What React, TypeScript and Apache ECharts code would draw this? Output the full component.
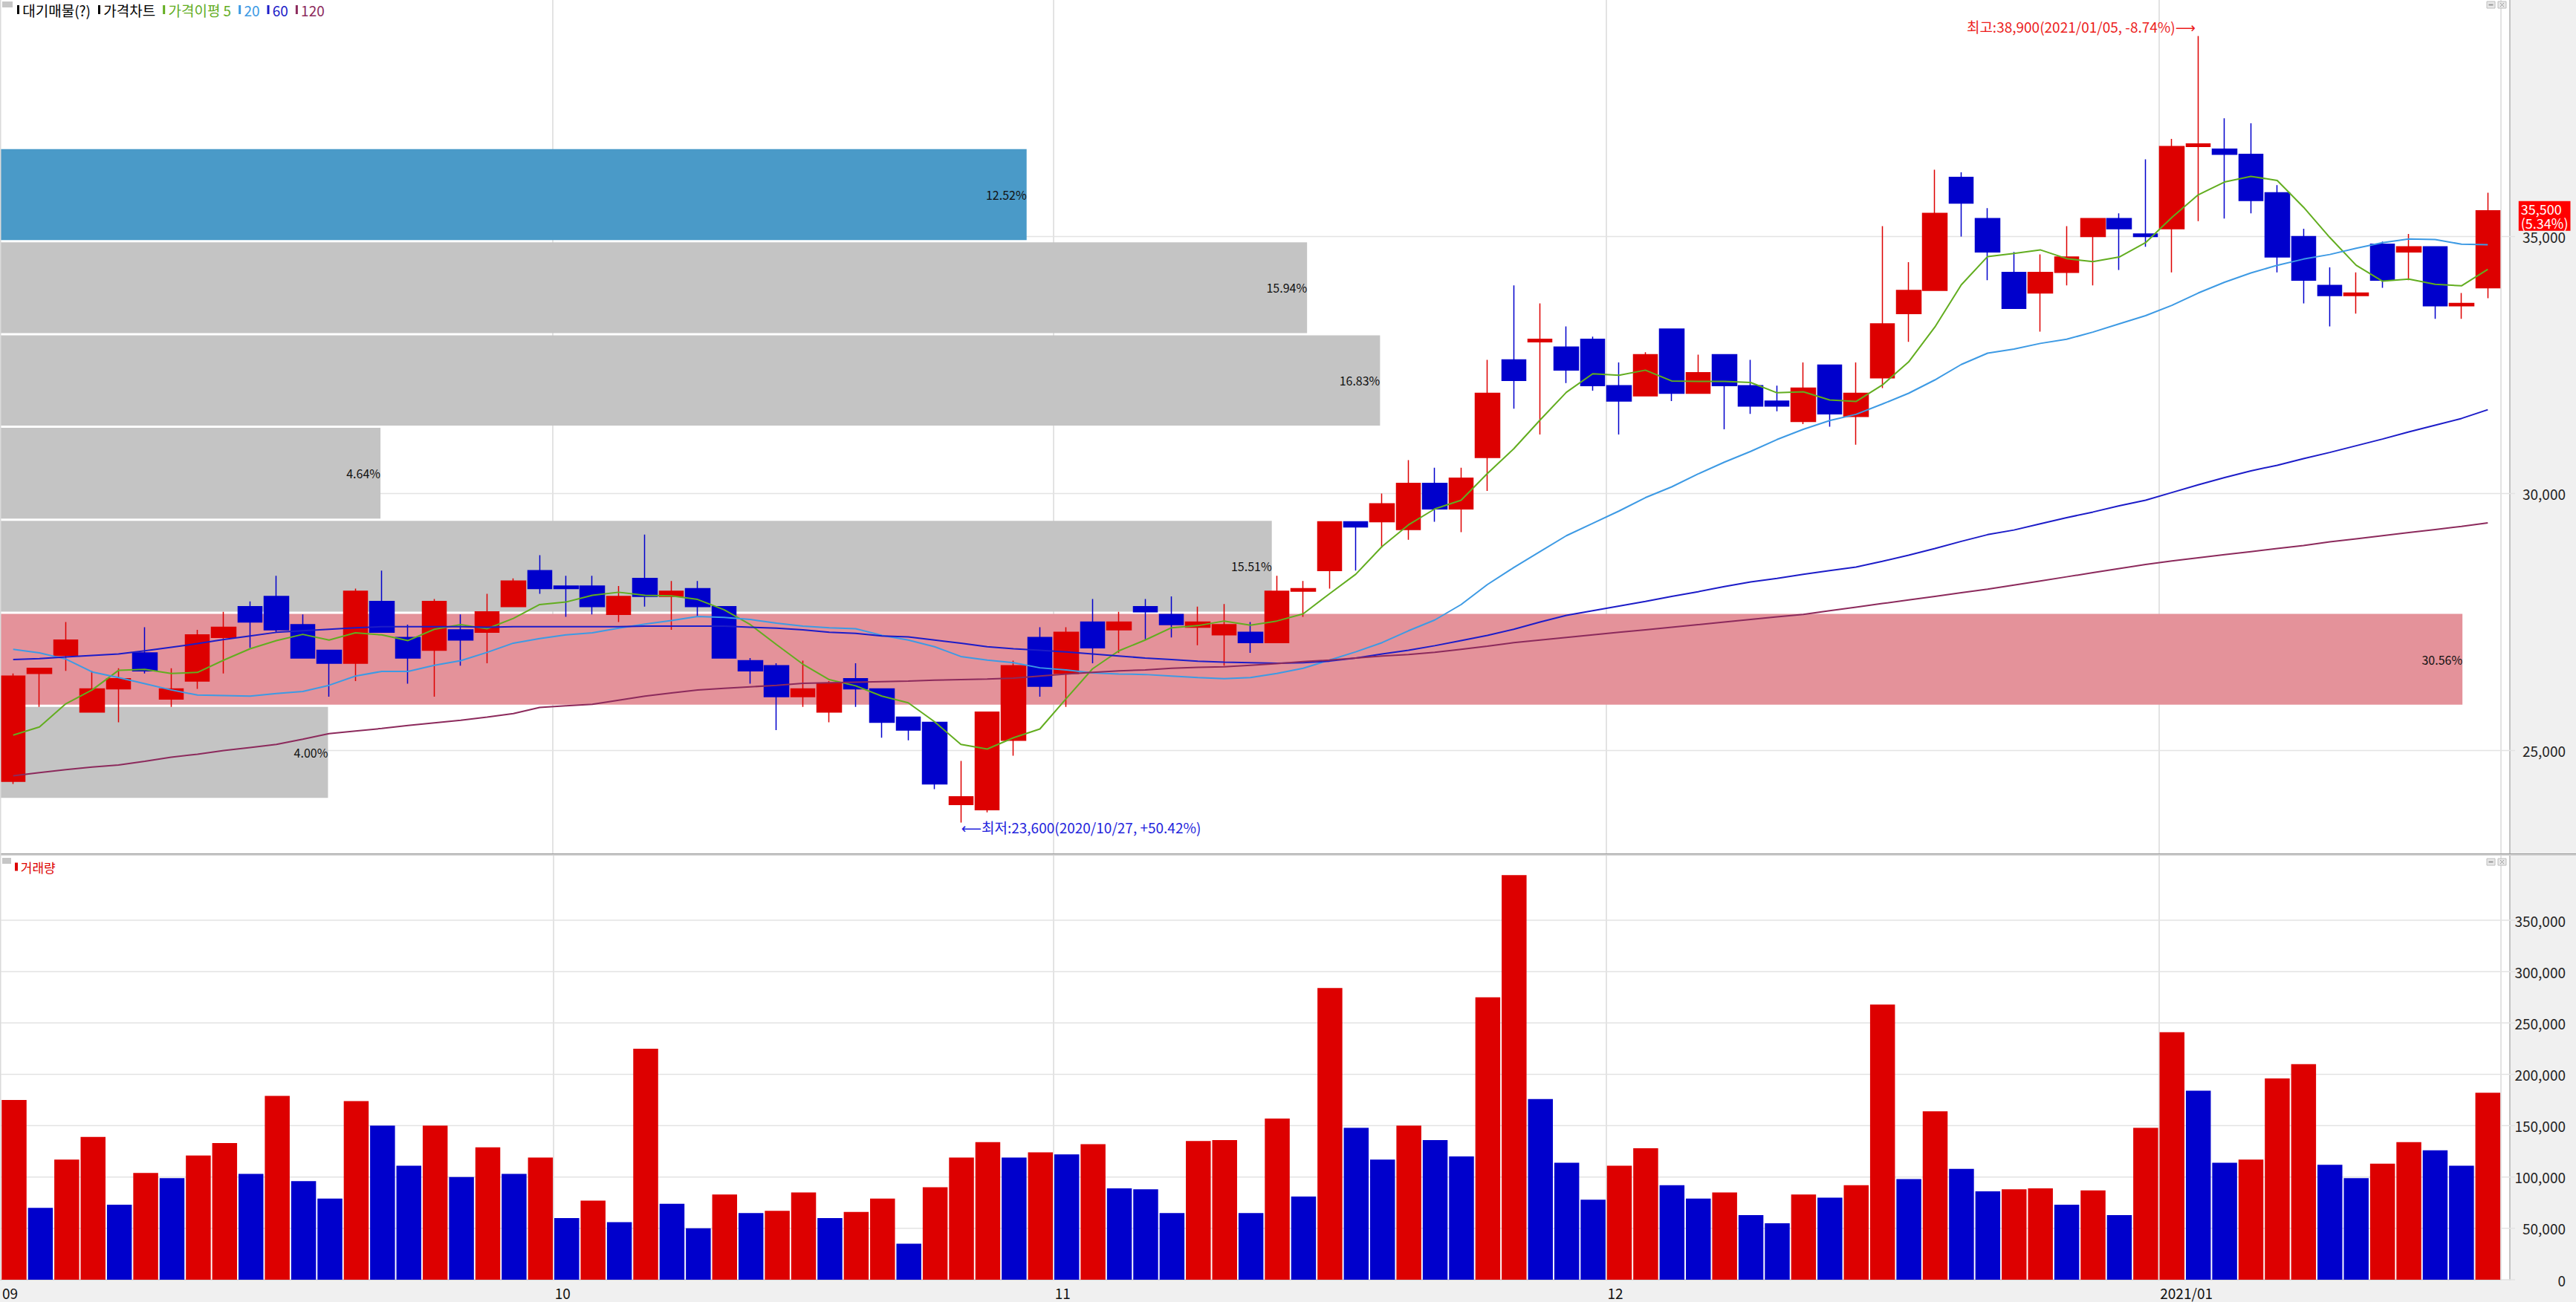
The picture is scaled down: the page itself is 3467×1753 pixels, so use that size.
import React, { useEffect, useRef } from "react";
import * as echarts from "echarts";

// ---------- DATA ----------
const dates = [
  "2020/09/01","2020/09/02","2020/09/03","2020/09/04","2020/09/07","2020/09/08","2020/09/09","2020/09/10","2020/09/11","2020/09/14",
  "2020/09/15","2020/09/16","2020/09/17","2020/09/18","2020/09/21","2020/09/22","2020/09/23","2020/09/24","2020/09/25","2020/09/28",
  "2020/09/29","2020/10/05","2020/10/06","2020/10/07","2020/10/08","2020/10/12","2020/10/13","2020/10/14","2020/10/15","2020/10/16",
  "2020/10/19","2020/10/20","2020/10/21","2020/10/22","2020/10/23","2020/10/26","2020/10/27","2020/10/28","2020/10/29","2020/10/30",
  "2020/11/02","2020/11/03","2020/11/04","2020/11/05","2020/11/06","2020/11/09","2020/11/10","2020/11/11","2020/11/12","2020/11/13",
  "2020/11/16","2020/11/17","2020/11/18","2020/11/19","2020/11/20","2020/11/23","2020/11/24","2020/11/25","2020/11/26","2020/11/27",
  "2020/11/30","2020/12/01","2020/12/02","2020/12/03","2020/12/04","2020/12/07","2020/12/08","2020/12/09","2020/12/10","2020/12/11",
  "2020/12/14","2020/12/15","2020/12/16","2020/12/17","2020/12/18","2020/12/21","2020/12/22","2020/12/23","2020/12/24","2020/12/28",
  "2020/12/29","2020/12/30","2021/01/04","2021/01/05","2021/01/06","2021/01/07","2021/01/08","2021/01/11","2021/01/12","2021/01/13",
  "2021/01/14","2021/01/15","2021/01/18","2021/01/19","2021/01/20"
];

const monthLabels = ["09", "10", "11", "12", "2021/01"];

const opens = [
  24400,26500,26850,25750,26200,26900,26000,26350,27200,27800,
  28000,27450,26950,26700,27900,27200,26950,27350,27300,27800,
  28500,28200,28200,27650,28350,28000,28150,27800,26750,26650,
  26050,25750,26400,26200,25650,25550,23950,23850,25200,27200,
  26500,27500,27350,27800,27650,27400,27250,27300,27100,28100,
  28500,29450,29450,29300,30200,29700,30700,32600,32950,32850,
  33000,32100,31900,33200,31950,32700,32100,31800,31400,32500,
  31500,32250,33500,33950,36150,35350,34300,33900,34300,35000,
  35350,35050,35150,36750,36700,36600,35850,35000,34050,33850,
  34850,34700,34800,33650,34000
];
const closes = [
  26450,26600,27150,26200,26400,26550,26200,27250,27400,27500,
  27350,26800,26700,28100,27300,26800,27900,27150,27700,28300,
  28150,28150,27800,28000,28000,28100,27800,26800,26550,26050,
  26200,26300,26200,25550,25400,24350,24100,25750,26650,26250,
  27300,27000,27500,27700,27450,27500,27450,27100,28100,28150,
  29450,29350,29800,30200,29700,30300,31950,32200,33000,32400,
  32100,31800,32700,31950,32350,32100,31700,31700,32050,31550,
  31950,33300,33950,35450,35650,34700,33600,34300,34600,35350,
  35150,35000,36750,36800,36600,35700,34600,34150,33850,33900,
  34150,34800,33650,33700,35500
];
const lows = [
  24350,25850,26550,25750,25550,26500,25850,26200,26500,27000,
  27300,26800,26050,26350,27300,26300,26050,26650,26700,27800,
  28050,27600,27650,27500,27800,27350,27600,26800,26300,25400,
  25850,25550,25850,25250,25200,24250,23600,23800,24900,26050,
  25850,26700,26900,27150,27200,27050,26650,26900,27100,27600,
  28150,28500,28950,29100,29450,29250,30050,31650,31150,32150,
  32000,31150,31900,31800,31950,31250,31550,31600,31350,31300,
  30950,32050,32950,33950,35000,34150,33600,33150,34050,34050,
  34350,34800,34300,35300,35350,35450,34300,33700,33250,33500,
  34000,34150,33400,33400,33800
];
const highs = [
  26500,26600,27500,26550,26600,27400,26600,27350,27700,27900,
  28400,27650,26950,28150,28500,27450,27950,27650,28050,28350,
  28800,28400,28400,28200,29200,28300,28300,27800,26800,26700,
  26750,26350,26700,26200,25650,25550,24800,25750,26750,27400,
  27400,27950,27700,27950,28000,27800,27850,27500,28400,28300,
  29450,29450,30000,30650,30500,30500,32600,34050,33700,33250,
  33050,32550,32750,33200,32700,32700,32600,32100,32550,32500,
  32550,35200,34500,36300,36250,35550,34700,34650,35200,35350,
  35450,36500,36900,38900,37300,37200,36000,35150,34400,34300,
  34900,35050,34800,33900,35850
];
const volumes = [
  175000,70000,117000,139000,73000,104000,99000,121000,133000,103000,
  179000,96000,79000,174000,150000,111000,150000,100000,129000,103000,
  119000,60000,77000,56000,225000,74000,50000,83000,65000,67000,
  85000,60000,66000,79000,35000,90000,119000,134000,119000,124000,
  122000,132000,89000,88000,65000,135000,136000,65000,157000,81000,
  284000,148000,117000,150000,136000,120000,275000,394000,176000,114000,
  78000,111000,128000,92000,79000,85000,63000,55000,83000,80000,
  92000,268000,98000,164000,108000,86000,88000,89000,73000,87000,
  63000,148000,241000,184000,114000,117000,196000,210000,112000,99000,
  113000,134000,126000,111000,182000
];
const ma5 = [
  25300,25460,25910,26180,26560,26580,26500,26520,26760,26980,
  27140,27260,27150,27290,27250,27140,27360,27450,27370,27570,
  27840,27890,28020,28080,28020,28010,27940,27740,27450,27060,
  26680,26380,26260,26060,25930,25560,25120,25030,25250,25420,
  26010,26590,26940,27150,27390,27430,27520,27440,27520,27660,
  28050,28430,28970,29390,29700,29870,30390,30870,31430,31970,
  32330,32300,32400,32190,32180,32180,32160,31960,31980,31820,
  31790,32110,32560,33240,34060,34610,34670,34740,34570,34510,
  34600,34880,35370,35810,36060,36170,36090,35570,34980,34440,
  34130,34170,34070,34040,34360
];
const ma20 = [
  26970,26900,26780,26530,26420,26300,26180,26080,26070,26060,
  26110,26150,26270,26450,26540,26540,26660,26750,26910,27090,
  27180,27250,27290,27380,27460,27530,27610,27590,27550,27480,
  27420,27390,27370,27240,27150,27020,26830,26760,26710,26610,
  26570,26510,26490,26480,26450,26420,26400,26420,26500,26600,
  26760,26920,27100,27330,27540,27840,28230,28560,28870,29180,
  29420,29660,29920,30130,30380,30610,30820,31050,31250,31420,
  31540,31740,31950,32210,32510,32730,32810,32920,33000,33140,
  33300,33460,33660,33900,34110,34290,34440,34560,34650,34770,
  34880,34950,34940,34850,34840
];
const ma60 = [
  26770,26790,26820,26850,26880,26940,27010,27080,27160,27230,
  27300,27330,27360,27390,27410,27410,27410,27410,27400,27410,
  27410,27410,27410,27410,27420,27420,27420,27420,27400,27380,
  27350,27300,27280,27230,27210,27150,27090,27020,26980,26950,
  26920,26880,26840,26800,26770,26740,26720,26710,26700,26710,
  26740,26800,26880,26950,27040,27140,27240,27360,27500,27630,
  27720,27810,27900,28000,28090,28190,28280,28350,28430,28500,
  28570,28680,28800,28930,29070,29200,29290,29410,29530,29640,
  29760,29870,30020,30170,30310,30440,30550,30680,30800,30930,
  31060,31200,31330,31460,31630
];
const ma120 = [
  24510,24570,24630,24680,24720,24790,24870,24930,25000,25060,
  25120,25220,25330,25380,25430,25490,25540,25590,25650,25720,
  25840,25870,25900,25980,26060,26120,26180,26210,26240,26270,
  26310,26320,26330,26340,26350,26370,26380,26390,26410,26450,
  26490,26520,26550,26570,26600,26620,26630,26660,26690,26730,
  26760,26800,26840,26870,26910,26970,27030,27100,27150,27200,
  27250,27300,27350,27400,27450,27500,27550,27600,27650,27720,
  27790,27860,27930,28000,28070,28140,28220,28300,28380,28460,
  28540,28620,28690,28750,28810,28870,28930,28990,29060,29120,
  29180,29240,29300,29360,29430
];
// volume-at-price bands (대기매물)
const bandTops = [36720, 34910, 33100, 31300, 29490, 27680, 25870];
const bandBottoms = [34910, 33100, 31300, 29490, 27680, 25870, 24060];
const bandPcts = [12.52, 15.94, 16.83, 4.64, 15.51, 30.56, 4.0];

const priceGridValues = [25000, 30000, 35000];
const volumeGridValues = [0, 50000, 100000, 150000, 200000, 250000, 300000, 350000];

// ---------- STYLE ----------
const F = '"Noto Sans CJK KR", "DejaVu Sans", sans-serif';
const UP = "#dd0000";
const DOWN = "#0000cc";
const C5 = "#62ad1f";
const C20 = "#3d9ae4";
const C60 = "#1c1cc8";
const C120 = "#8c2a5c";

const fmt = (v: number) => Math.round(v).toLocaleString("en-US");

export default function App() {
  const ref = useRef<HTMLDivElement>(null);

  useEffect(() => {
    const el = ref.current;
    if (!el) return;
    const chart = echarts.init(el, null, { renderer: "svg", width: 3467, height: 1753 });

    const N = dates.length;
    const monthStart = dates.map((d, i) => i === 0 || d.slice(0, 7) !== dates[i - 1].slice(0, 7));
    const labelOf: Record<number, string> = {};
    let k = 0;
    monthStart.forEach((s, i) => {
      if (s) labelOf[i] = monthLabels[k++];
    });

    const candleData = dates.map((_, i) => [opens[i], closes[i], lows[i], highs[i]]);
    const volData = volumes.map((v, i) => ({
      value: v,
      itemStyle: { color: i === 0 || v >= volumes[i - 1] ? UP : DOWN },
    }));

    const last = N - 1;
    const lastClose = closes[last];
    const chg = ((lastClose / closes[last - 1] - 1) * 100).toFixed(2);
    const hiVal = Math.max(...highs);
    const hiIdx = highs.indexOf(hiVal);
    const loVal = Math.min(...lows);
    const loIdx = lows.indexOf(loVal);
    const hiPct = ((lastClose / hiVal - 1) * 100).toFixed(2);
    const loPct = ((lastClose / loVal - 1) * 100).toFixed(2);
    const hiText = `최고:${fmt(hiVal)}(${dates[hiIdx]}, ${hiPct}%)⟶`;
    const loText = `⟵최저:${fmt(loVal)}(${dates[loIdx]}, +${loPct}%)`;
    const maxPct = Math.max(...bandPcts);

    const gridLineSeries = (xi: number, yi: number, vals: number[]) => ({
      type: "custom",
      xAxisIndex: xi,
      yAxisIndex: yi,
      z: 1,
      silent: true,
      clip: false,
      data: vals.map((v) => [0, v]),
      renderItem: (params: any, api: any) => {
        const cs = params.coordSys;
        const y = api.coord([0, api.value(1)])[1];
        return {
          type: "line",
          shape: { x1: cs.x, y1: y, x2: cs.x + cs.width + 19, y2: y },
          style: { stroke: "#e3e3e3", lineWidth: 1.5 },
        };
      },
    });

    const lineSeries = (name: string, data: number[], color: string) => ({
      name,
      type: "line",
      xAxisIndex: 0,
      yAxisIndex: 0,
      data,
      z: 4,
      symbol: "none",
      silent: true,
      lineStyle: { color, width: 2 },
    });

    const icons = (y: number) => [
      { type: "rect", shape: { x: 3347, y, width: 11, height: 9 }, style: { fill: "#e8e8e8", stroke: "#bdbdbd", lineWidth: 1 }, z: 10, silent: true },
      { type: "rect", shape: { x: 3349.5, y: y + 3.5, width: 6, height: 2 }, style: { fill: "#9a9a9a" }, z: 11, silent: true },
      { type: "rect", shape: { x: 3362, y, width: 11, height: 9 }, style: { fill: "#e8e8e8", stroke: "#bdbdbd", lineWidth: 1 }, z: 10, silent: true },
      { type: "line", shape: { x1: 3365, y1: y + 2, x2: 3370, y2: y + 7 }, style: { stroke: "#9a9a9a", lineWidth: 1 }, z: 11, silent: true },
      { type: "line", shape: { x1: 3370, y1: y + 2, x2: 3365, y2: y + 7 }, style: { stroke: "#9a9a9a", lineWidth: 1 }, z: 11, silent: true },
    ];

    const tok = (fill: string, size: number) => ({
      fill,
      font: `${size}px ${F}`,
      fontSize: size,
      fontFamily: F,
    });
    const LF = 19;
    const mk = (c: string) => ({ backgroundColor: c, width: 3, height: 12 });
    const legendRich: any = {
      k: mk("#000"),
      t: tok("#000", LF),
      s: { width: 10 },
      mg: mk(C5),
      tg: tok(C5, LF),
      mb: mk(C20),
      tb: tok(C20, LF),
      md: mk(C60),
      td: tok(C60, LF),
      mm: mk(C120),
      tm: tok(C120, LF),
    };

    const option: any = {
      animation: false,
      backgroundColor: "#f0f0f0",
      grid: [
        { left: 0, top: 0, width: 3366, height: 1149 },
        { left: 0, top: 1152, width: 3366, height: 571 },
      ],
      xAxis: [
        {
          type: "category",
          gridIndex: 0,
          data: dates,
          boundaryGap: true,
          axisLine: { show: false, onZero: false },
          axisTick: { show: false },
          axisLabel: { show: false },
          splitLine: {
            show: true,
            interval: (i: number) => monthStart[i] && i > 0,
            lineStyle: { color: "#e3e3e3", width: 2 },
          },
        },
        {
          type: "category",
          gridIndex: 1,
          data: dates,
          boundaryGap: true,
          axisLine: { show: true, onZero: false, lineStyle: { color: "#c4c4c4", width: 2 } },
          axisTick: { show: false },
          axisLabel: {
            show: true,
            interval: (i: number) => monthStart[i],
            formatter: (_v: string, i: number) => labelOf[i] ?? "",
            align: "left",
            padding: [0, 0, 0, -16],
            margin: 8,
            color: "#111",
            fontSize: 19,
            fontFamily: F,
          },
          splitLine: {
            show: true,
            interval: (i: number) => monthStart[i] && i > 0,
            lineStyle: { color: "#e3e3e3", width: 2 },
          },
        },
        { type: "value", gridIndex: 0, min: 0, max: 30.5, show: false },
      ],
      yAxis: [
        {
          type: "value",
          gridIndex: 0,
          position: "right",
          offset: 12,
          min: 23000,
          max: 39600,
          minInterval: 5000,
          maxInterval: 5000,
          axisLine: { show: true, onZero: false, lineStyle: { color: "#c4c4c4", width: 2 } },
          axisTick: { show: false },
          axisLabel: {
            align: "right",
            margin: 75,
            color: "#222",
            fontSize: 19,
            fontFamily: F,
            showMinLabel: false,
            showMaxLabel: false,
            formatter: (v: number) => fmt(v),
          },
          splitLine: { show: false },
        },
        {
          type: "value",
          gridIndex: 1,
          position: "right",
          offset: 12,
          min: 0,
          max: 413000,
          minInterval: 50000,
          maxInterval: 50000,
          axisLine: { show: true, onZero: false, lineStyle: { color: "#c4c4c4", width: 2 } },
          axisTick: { show: false },
          axisLabel: {
            align: "right",
            margin: 75,
            color: "#222",
            fontSize: 19,
            fontFamily: F,
            showMinLabel: true,
            showMaxLabel: false,
            formatter: (v: number) => (v > 350000 ? "" : fmt(v)),
          },
          splitLine: { show: false },
        },
      ],
      series: [
        gridLineSeries(0, 0, priceGridValues),
        gridLineSeries(1, 1, volumeGridValues),
        {
          type: "custom",
          xAxisIndex: 2,
          yAxisIndex: 0,
          z: 2,
          silent: true,
          data: bandPcts.map((p, i) => [p, bandTops[i], bandBottoms[i]]),
          renderItem: (params: any, api: any) => {
            const cs = params.coordSys;
            const pct = api.value(0);
            const top = api.value(1);
            const bot = api.value(2);
            const x0 = cs.x;
            const xEnd = Math.min(api.coord([pct, top])[0], cs.x + cs.width * 0.9846);
            const yTop = api.coord([0, top])[1] + 1.5;
            const yBot = api.coord([0, bot])[1] - 1.5;
            const isCur = lastClose <= top && lastClose > bot;
            const fill = isCur ? "#4a9ac8" : pct === maxPct ? "#e4929a" : "#c4c4c4";
            return {
              type: "group",
              children: [
                { type: "rect", shape: { x: x0, y: yTop, width: xEnd - x0, height: yBot - yTop }, style: { fill } },
                {
                  type: "text",
                  style: {
                    text: pct.toFixed(2) + "%",
                    x: xEnd,
                    y: (yTop + yBot) / 2,
                    align: "right",
                    verticalAlign: "middle",
                    textAlign: "right",
                    textVerticalAlign: "middle",
                    fill: "#111",
                    font: `16px ${F}`,
                  },
                },
              ],
            };
          },
        },
        {
          name: "가격차트",
          type: "candlestick",
          xAxisIndex: 0,
          yAxisIndex: 0,
          z: 3,
          barWidth: 33,
          silent: true,
          data: candleData,
          itemStyle: {
            color: UP,
            color0: DOWN,
            borderColor: UP,
            borderColor0: DOWN,
            borderWidth: 1.5,
          },
          markPoint: {
            symbol: "circle",
            symbolSize: 1,
            silent: true,
            itemStyle: { color: "rgba(0,0,0,0)" },
            data: [
              {
                coord: [dates[hiIdx], hiVal],
                label: {
                  show: true,
                  position: "left",
                  distance: 3,
                  offset: [0, -13],
                  formatter: hiText,
                  color: "#ec1c1c",
                  fontSize: 19,
                  fontFamily: F,
                },
              },
              {
                coord: [dates[loIdx], loVal],
                label: {
                  show: true,
                  position: "right",
                  distance: 0,
                  offset: [0, 6],
                  formatter: loText,
                  color: "#2424dc",
                  fontSize: 19,
                  fontFamily: F,
                },
              },
              {
                coord: [dates[last], lastClose],
                label: {
                  show: true,
                  position: "right",
                  distance: 41,
                  offset: [0, 7],
                  formatter: `${fmt(lastClose)}\n(${chg}%)`,
                  color: "#fff",
                  backgroundColor: "#ff0000",
                  padding: [1, 3, 1, 3],
                  lineHeight: 19,
                  align: "left",
                  fontSize: 18,
                  fontFamily: F,
                },
              },
            ],
          },
        },
        lineSeries("MA5", ma5, C5),
        lineSeries("MA20", ma20, C20),
        lineSeries("MA60", ma60, C60),
        lineSeries("MA120", ma120, C120),
        {
          name: "거래량",
          type: "bar",
          xAxisIndex: 1,
          yAxisIndex: 1,
          z: 3,
          silent: true,
          barWidth: 33.5,
          data: volData,
        },
      ],
      graphic: {
        elements: [
          { type: "rect", shape: { x: 0, y: 0, width: 3378, height: 1149 }, style: { fill: "#ffffff" }, z: -10, silent: true },
          { type: "rect", shape: { x: 0, y: 1152, width: 3378, height: 571 }, style: { fill: "#ffffff" }, z: -10, silent: true },
          { type: "rect", shape: { x: 0, y: 1149, width: 3467, height: 1.6 }, style: { fill: "#9c9c9c" }, z: 5, silent: true },
          { type: "rect", shape: { x: 0, y: 1150.6, width: 3467, height: 1.4 }, style: { fill: "#d2d2d2" }, z: 5, silent: true },
          { type: "rect", shape: { x: 0, y: 0, width: 1.5, height: 1723 }, style: { fill: "#dadada" }, z: 5, silent: true },
          { type: "rect", shape: { x: 3, y: 2, width: 14, height: 8 }, style: { fill: "#c6c6c6" }, z: 10, silent: true },
          {
            type: "text",
            x: 23,
            y: 13,
            z: 10,
            silent: true,
            style: {
              text: "{k| }{t| 대기매물(?)}{s| }{k| }{t| 가격차트}{s| }{mg| }{tg| 가격이평 5}{s| }{mb| }{tb| 20}{s| }{md| }{td| 60}{s| }{mm| }{tm| 120}",
              rich: legendRich,
              font: `${LF}px ${F}`,
              fontSize: LF,
              fontFamily: F,
              verticalAlign: "middle",
              textVerticalAlign: "middle",
            },
          },
          { type: "rect", shape: { x: 3, y: 1155, width: 12, height: 8 }, style: { fill: "#c6c6c6" }, z: 10, silent: true },
          {
            type: "text",
            x: 20,
            y: 1167,
            z: 10,
            silent: true,
            style: {
              text: "{k| }{t| 거래량}",
              rich: {
                k: { backgroundColor: UP, width: 4, height: 11 },
                t: tok(UP, 17),
              },
              font: `17px ${F}`,
              verticalAlign: "middle",
              textVerticalAlign: "middle",
            },
          },
          ...icons(2),
          ...icons(1156),
        ],
      },
    };

    chart.setOption(option);
    return () => chart.dispose();
  }, []);

  return (
    <div
      ref={ref}
      style={{ position: "absolute", left: 0, top: 0, width: 3467, height: 1753, overflow: "hidden" }}
    />
  );
}
